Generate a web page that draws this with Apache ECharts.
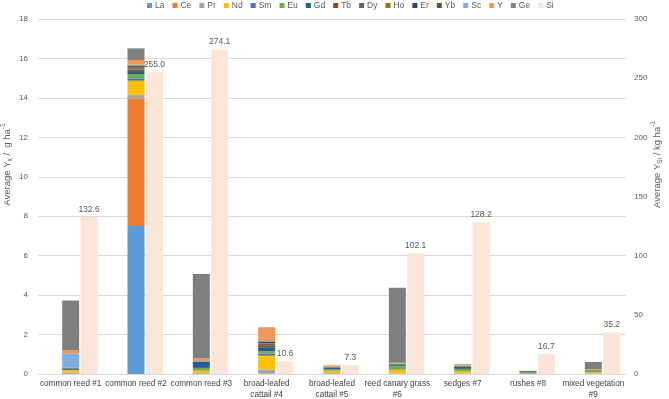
<!DOCTYPE html>
<html>
<head>
<meta charset="utf-8">
<script src="https://cdn.jsdelivr.net/npm/echarts@6/dist/echarts.min.js"></script>
<style>
html,body{margin:0;padding:0;background:#fff;}
#chart{width:669px;height:399px;}
</style>
</head>
<body>
<div id="chart"></div>
<script>
// categories (sites)
var categories = ['common reed #1', 'common reed #2', 'common reed #3', 'broad-leafed\ncattail #4',
	'broad-leafed\ncattail #5', 'reed canary grass\n#6', 'sedges #7', 'rushes #8', 'mixed vegetation\n#9'];

// element yields, g/ha (left axis)
var La = [0.03, 7.5, 0.02, 0.01, 0.02, 0.01, 0.01, 0.005, 0.01];
var Ce = [0.02, 6.47, 0.02, 0.01, 0.02, 0.01, 0.01, 0.005, 0.01];
var Pr = [0.01, 0.17, 0.01, 0.2, 0.01, 0.01, 0.01, 0, 0.01];
var Nd = [0.12, 0.73, 0.12, 0.71, 0.1, 0.17, 0.1, 0.01, 0.06];
var Sm = [0.01, 0.12, 0.02, 0.1, 0.02, 0.02, 0.01, 0.005, 0.01];
var Eu = [0.02, 0.2, 0.12, 0.13, 0.06, 0.17, 0.12, 0.02, 0.06];
var Gd = [0.07, 0.17, 0.3, 0.2, 0.08, 0.06, 0.1, 0.01, 0.02];
var Tb = [0.01, 0.08, 0.01, 0.1, 0.01, 0.01, 0.01, 0, 0.01];
var Dy = [0.01, 0.07, 0.01, 0.08, 0.01, 0.02, 0.01, 0.005, 0.01];
var Ho = [0.005, 0.05, 0.005, 0.02, 0.01, 0.01, 0.01, 0, 0];
var Er = [0.005, 0.05, 0.005, 0.08, 0.01, 0.02, 0.01, 0.005, 0.01];
var Yb = [0.005, 0.04, 0.005, 0.02, 0.02, 0.02, 0.01, 0.03, 0.01];
var Sc = [0.71, 0.03, 0.01, 0.01, 0, 0.01, 0.01, 0, 0.01];
var Y = [0.17, 0.24, 0.13, 0.68, 0.07, 0.03, 0.08, 0.005, 0.02];
var Ge = [2.53, 0.59, 4.28, 0.02, 0, 3.8, 0, 0.06, 0.36];
// silicon yield, kg/ha (right axis)
var Si = [132.6, 255.0, 274.1, 10.6, 7.3, 102.1, 128.2, 16.7, 35.2];

var names = ['La','Ce','Pr','Nd','Sm','Eu','Gd','Tb','Dy','Ho','Er','Yb','Sc','Y','Ge'];
var values = [La, Ce, Pr, Nd, Sm, Eu, Gd, Tb, Dy, Ho, Er, Yb, Sc, Y, Ge];
var colors = ['#5B9BD5','#ED7D31','#A5A5A5','#FFC000','#4472C4','#70AD47','#255E91','#9E480E',
	'#636363','#997300','#264478','#43682B','#7CAFDD','#F1975A','#7F7F7F'];

var font = 'Liberation Sans, Arial, sans-serif';
var series = [];

// empty column, pushes the pair of bars to the right like in the original
series.push({
	name: 'pad',
	type: 'bar',
	barWidth: 17,
	barGap: '8%',
	silent: true,
	data: categories.map(function(){ return '-'; })
});

for (var i = 0; i < names.length; i++) {
	series.push({
		name: names[i],
		type: 'bar',
		stack: 'ree',
		barWidth: 17,
		barGap: '8%',
		itemStyle: {color: colors[i]},
		data: values[i]
	});
}

series.push({
	name: 'Si',
	type: 'bar',
	yAxisIndex: 1,
	barWidth: 17,
	barGap: '8%',
	itemStyle: {color: '#FBE5D6'},
	label: {
		show: true,
		position: 'top',
		distance: 3,
		color: '#595959',
		fontSize: 8.5,
		fontFamily: font,
		formatter: function(p){ return p.value.toFixed(1); }
	},
	data: Si
});

var nameRich = {
	a: {fontSize: 9.5, color: '#595959', fontFamily: font, lineHeight: 14},
	sub: {fontSize: 6.5, color: '#595959', fontFamily: font, lineHeight: 7, verticalAlign: 'bottom'},
	sup: {fontSize: 6.5, color: '#595959', fontFamily: font, lineHeight: 7, verticalAlign: 'top'}
};

var myChart = echarts.init(document.getElementById('chart'), null, {renderer: 'canvas'});
var option = {
	animation: false,
	backgroundColor: '#fff',
	textStyle: {fontFamily: font},
	legend: {
		data: names.concat(['Si']),
		left: 142,
		top: -4,
		itemWidth: 5,
		itemHeight: 5,
		itemGap: 8,
		icon: 'rect',
		textStyle: {fontSize: 8.5, color: '#595959', fontFamily: font, padding: [0, 0, 0, -2]}
	},
	grid: {left: 38, right: 43, top: 19, bottom: 25, outerBoundsMode: 'none', containLabel: false},
	xAxis: {
		type: 'category',
		data: categories,
		axisLine: {lineStyle: {color: '#d9d9d9'}},
		axisTick: {show: false},
		axisLabel: {
			interval: 0,
			fontSize: 8.2,
			color: '#404040',
			fontFamily: font,
			lineHeight: 11,
			margin: 4
		}
	},
	yAxis: [{
		type: 'value',
		min: 0,
		max: 18,
		interval: 2,
		name: '{a|Average Y}{sub|x}{a| /  g ha}{sup|-1}',
		nameLocation: 'middle',
		nameGap: 24,
		nameMoveOverlap: false,
		nameTextStyle: {rich: nameRich, padding: [0, 0, 0, 64]},
		axisLine: {show: false},
		axisTick: {show: false},
		axisLabel: {fontSize: 8, color: '#595959', fontFamily: font, margin: 10},
		splitLine: {lineStyle: {color: '#d9d9d9'}}
	}, {
		type: 'value',
		min: 0,
		max: 300,
		interval: 50,
		name: '{a|Average Y}{sub|Si}{a| / kg ha}{sup|-1}',
		nameLocation: 'middle',
		nameGap: 24,
		nameMoveOverlap: false,
		nameTextStyle: {rich: nameRich, padding: [0, 0, 0, 64]},
		axisLine: {show: false},
		axisTick: {show: false},
		axisLabel: {fontSize: 8, color: '#595959', fontFamily: font, margin: 8},
		splitLine: {show: false}
	}],
	series: series
};
myChart.setOption(option, true);
</script>
</body>
</html>
